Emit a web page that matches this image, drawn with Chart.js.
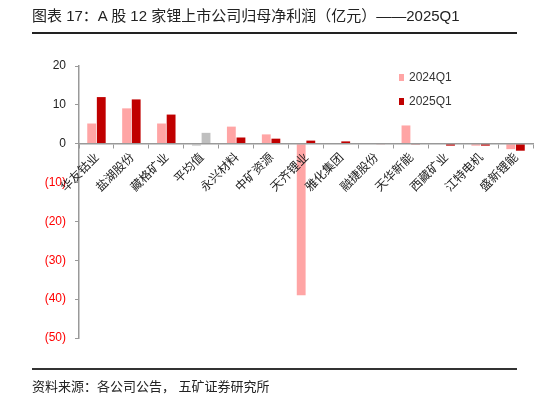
<!DOCTYPE html>
<html lang="zh">
<head>
  <meta charset="UTF-8">
  <script src="https://cdn.jsdelivr.net/npm/chart.js"></script>
  <title>锂上市公司归母净利润</title>
  <style>
    body { margin: 0; background: #fff; font-family: "Liberation Sans", "Noto Sans CJK SC", sans-serif; }
    #main { position: relative; width: 556px; height: 397px; overflow: hidden; }
    #title { position: absolute; left: 32px; top: 4px; font-size: 15px; color: #222; white-space: nowrap; }
    #topLine { position: absolute; left: 32px; top: 32px; width: 485px; height: 2px; background: #222; }
    #botLine { position: absolute; left: 32px; top: 368px; width: 485px; height: 2px; background: #333; }
    #source { position: absolute; left: 32px; top: 376px; font-size: 13px; color: #222; white-space: nowrap; }
    #legend { position: absolute; left: 399px; top: 69px; font-size: 12px; color: #333; }
    #legend div { height: 24px; line-height: 16px; }
    #legend span.box { display: inline-block; width: 5px; height: 7px; margin-right: 5px; vertical-align: -0px; }
    #wrap { position: absolute; left: 0; top: 0; width: 556px; height: 397px; }
  </style>
</head>
<body>
  <div id="main">
    <div id="wrap"><canvas id="myChart" width="556" height="397"></canvas></div>
    <div id="title">图表 17：A 股 12 家锂上市公司归母净利润（亿元）——2025Q1</div>
    <div id="topLine"></div>
    <div id="legend">
      <div><span class="box" style="background:#FFA5A5"></span>2024Q1</div>
      <div><span class="box" style="background:#C00000"></span>2025Q1</div>
    </div>
    <div id="botLine"></div>
    <div id="source">资料来源：各公司公告，&nbsp;五矿证券研究所</div>
  </div>
  <script>
    // 数据 (亿元)
    const labels = ['华友钴业', '盐湖股份', '藏格矿业', '平均值', '永兴材料', '中矿资源', '天齐锂业',
      '雅化集团', '融捷股份', '天华新能', '西藏矿业', '江特电机', '盛新锂能'];
    const q1_2024 = [5.2, 9.1, 5.2, -0.6, 4.4, 2.4, -39.0, 0.1, 0.1, 4.7, 0.1, -0.5, -1.4];
    const q1_2025 = [12.0, 11.4, 7.5, 2.8, 1.6, 1.3, 0.8, 0.6, -0.1, -0.2, -0.5, -0.5, -1.8];
    const yTicks = [20, 10, 0, -10, -20, -30, -40, -50];

    const avgIdx = labels.indexOf('平均值');
    const c2024 = labels.map((l, i) => i == avgIdx ? '#D9D9D9' : '#FFA5A5');
    const c2025 = labels.map((l, i) => i == avgIdx ? '#BFBFBF' : '#C00000');

    const ctx = document.getElementById('myChart');
    new Chart(ctx, {
      type: 'bar',
      data: {
        labels: labels,
        datasets: [
          { label: '2024Q1', data: q1_2024, backgroundColor: c2024, categoryPercentage: 0.55, barPercentage: 0.92 },
          { label: '2025Q1', data: q1_2025, backgroundColor: c2025, categoryPercentage: 0.55, barPercentage: 0.92 }
        ]
      },
      options: {
        responsive: false,
        animation: false,
        layout: { padding: { top: 66, bottom: 59, left: 0, right: 23 } },
        plugins: { legend: { display: false }, tooltip: { enabled: false } },
        scales: {
          x: {
            position: { y: 0 },
            afterFit: function (s) { s.height = 0; },
            border: { color: '#999', width: 1.5, z: 1 },
            grid: { display: true, drawOnChartArea: false, offset: true, tickLength: 4, color: '#999' },
            ticks: {
              z: 1,
              minRotation: 45, maxRotation: 45, autoSkip: false, padding: 2,
              color: '#222', font: { size: 12, family: '"Noto Sans CJK SC", sans-serif' }
            }
          },
          y: {
            min: -50, max: 20,
            afterFit: function (s) { s.width = 79; },
            afterBuildTicks: function (s) { s.ticks = yTicks.map(v => ({ value: v })); },
            border: { color: '#999', width: 1.5 },
            grid: { display: true, drawOnChartArea: false, tickLength: 4, color: '#999' },
            ticks: {
              padding: 9,
              font: { size: 12, family: '"Liberation Sans", sans-serif' },
              color: c => (c.tick && c.tick.value < 0) ? '#FF0000' : '#222',
              callback: v => v < 0 ? '(' + (-v) + ')' : String(v)
            }
          }
        }
      }
    });
  </script>
</body>
</html>
